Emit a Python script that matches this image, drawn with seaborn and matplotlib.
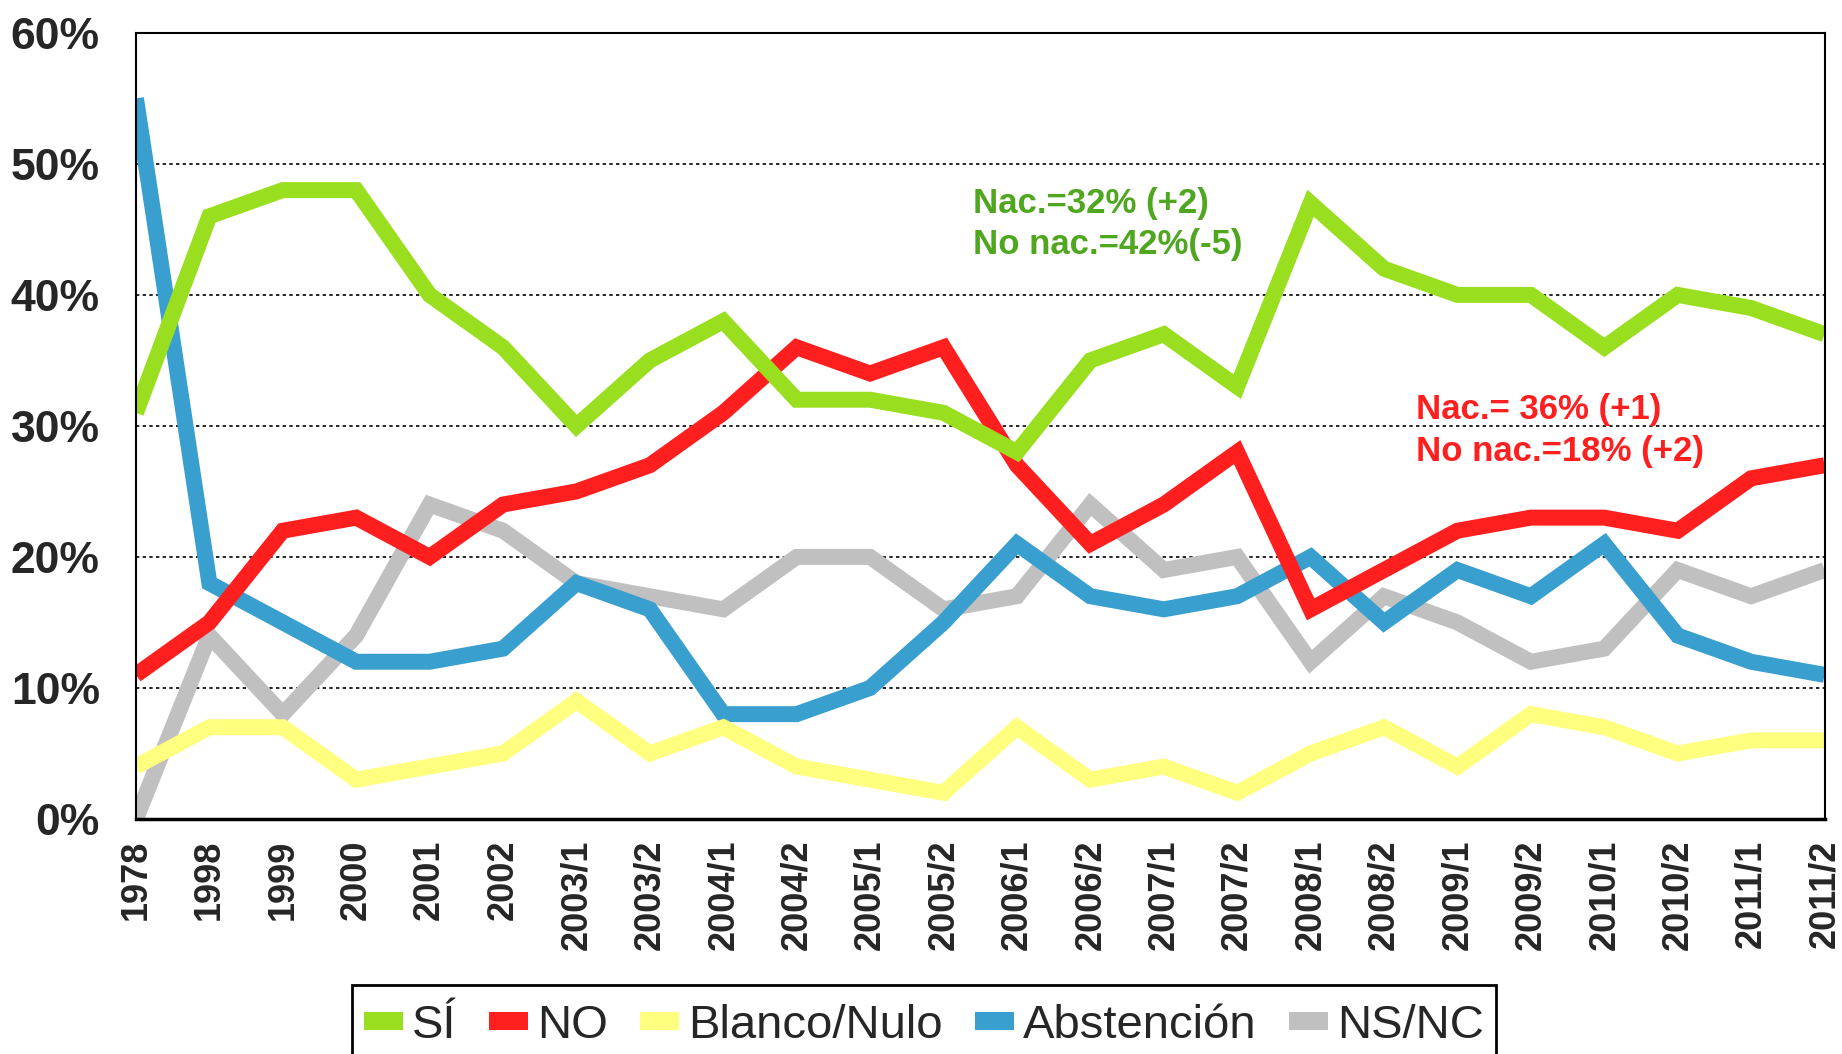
import pandas as pd
import seaborn as sns
import matplotlib.pyplot as plt
from matplotlib.lines import Line2D
from matplotlib.patches import Rectangle

periodos = ["1978", "1998", "1999", "2000", "2001", "2002", "2003/1", "2003/2",
            "2004/1", "2004/2", "2005/1", "2005/2", "2006/1", "2006/2", "2007/1",
            "2007/2", "2008/1", "2008/2", "2009/1", "2009/2", "2010/1", "2010/2",
            "2011/1", "2011/2"]

si = [31, 46, 48, 48, 40, 36, 30, 35, 38, 32, 32, 31, 28, 35, 37, 33, 47, 42, 40, 40, 36, 40, 39, 37]
no = [11, 15, 22, 23, 20, 24, 25, 27, 31, 36, 34, 36, 27, 21, 24, 28, 16, 19, 22, 23, 23, 22, 26, 27]
blanco = [4, 7, 7, 3, 4, 5, 9, 5, 7, 4, 3, 2, 7, 3, 4, 2, 5, 7, 4, 8, 7, 5, 6, 6]
abstencion = [55, 18, 15, 12, 12, 13, 18, 16, 8, 8, 10, 15, 21, 17, 16, 17, 20, 15, 19, 17, 21, 14, 12, 11]
nsnc = [0, 14, 8, 14, 24, 22, 18, 17, 16, 20, 20, 16, 17, 24, 19, 20, 12, 17, 15, 12, 13, 19, 17, 19]

series = ["SÍ", "NO", "Blanco/Nulo", "Abstención", "NS/NC"]
colores = {"SÍ": "#9ADF1F", "NO": "#FF1F1F", "Blanco/Nulo": "#FFFF7F",
           "Abstención": "#389FCF", "NS/NC": "#C0C0C0"}

df = pd.DataFrame({"periodo": periodos, "SÍ": si, "NO": no, "Blanco/Nulo": blanco,
                   "Abstención": abstencion, "NS/NC": nsnc})
largo = df.melt(id_vars="periodo", var_name="serie", value_name="valor")

sns.set_style("white")
plt.rcParams["font.family"] = ["Liberation Sans", "DejaVu Sans"]

fig = plt.figure(figsize=(18.42, 10.54), dpi=100)
ax = fig.add_axes([0.0738, 0.223, 0.9167, 0.7458])

# en el original la primera serie queda encima
sns.lineplot(data=largo, x="periodo", y="valor", hue="serie",
             hue_order=series[::-1], palette=colores, linewidth=11.5,
             sort=False, legend=False, ax=ax)
for ln in ax.lines:
    ln.set_solid_joinstyle("miter")
    ln.set_solid_capstyle("butt")

ax.set_xlim(0, len(periodos) - 1)
ax.set_ylim(0, 60)
ax.set_xlabel("")
ax.set_ylabel("")

ax.set_yticks(range(0, 61, 10))
ax.set_yticklabels([f"{v}%" for v in range(0, 61, 10)], fontsize=32, fontweight="bold")
ax.set_xticks(range(len(periodos)))
ax.set_xticklabels(periodos, rotation=90, fontsize=26, fontweight="bold", va="top")
ax.tick_params(axis="y", length=0, pad=26)
ax.tick_params(axis="x", length=0, pad=15)

ax.yaxis.grid(True, linestyle=(0, (2, 2)), color="black", linewidth=1.2)
ax.set_axisbelow(True)
for lado, sp in ax.spines.items():
    sp.set_visible(True)
    sp.set_color("black")
    sp.set_linewidth(1.5)
ax.spines["bottom"].set_linewidth(2.5)

ax.text(0.496, 0.757, "Nac.=32% (+2)\nNo nac.=42%(-5)", transform=ax.transAxes,
        color="#4EA71E", fontsize=25, fontweight="bold", va="center", ha="left",
        linespacing=1.32)
ax.text(0.758, 0.494, "Nac.= 36% (+1)\nNo nac.=18% (+2)", transform=ax.transAxes,
        color="#FF1F1F", fontsize=25, fontweight="bold", va="center", ha="left",
        linespacing=1.32)

# leyenda sin marco; el marco sale por debajo de la figura como en el original
handles = [Line2D([0], [0], color=colores[s], linewidth=13, solid_capstyle="butt")
           for s in series]
leg = fig.legend(handles, series, loc="center", bbox_to_anchor=(0.5016, 0.027),
                 ncol=5, fontsize=34, frameon=False,
                 handlelength=0.82, handletextpad=0.2, columnspacing=0.68,
                 borderpad=0.1, borderaxespad=0)
fig.patches.append(Rectangle((0.191, -0.06), 0.621, 0.1255, transform=fig.transFigure,
                             facecolor="white", edgecolor="black", linewidth=2,
                             zorder=0))

fig.savefig("out.png", dpi=100)
